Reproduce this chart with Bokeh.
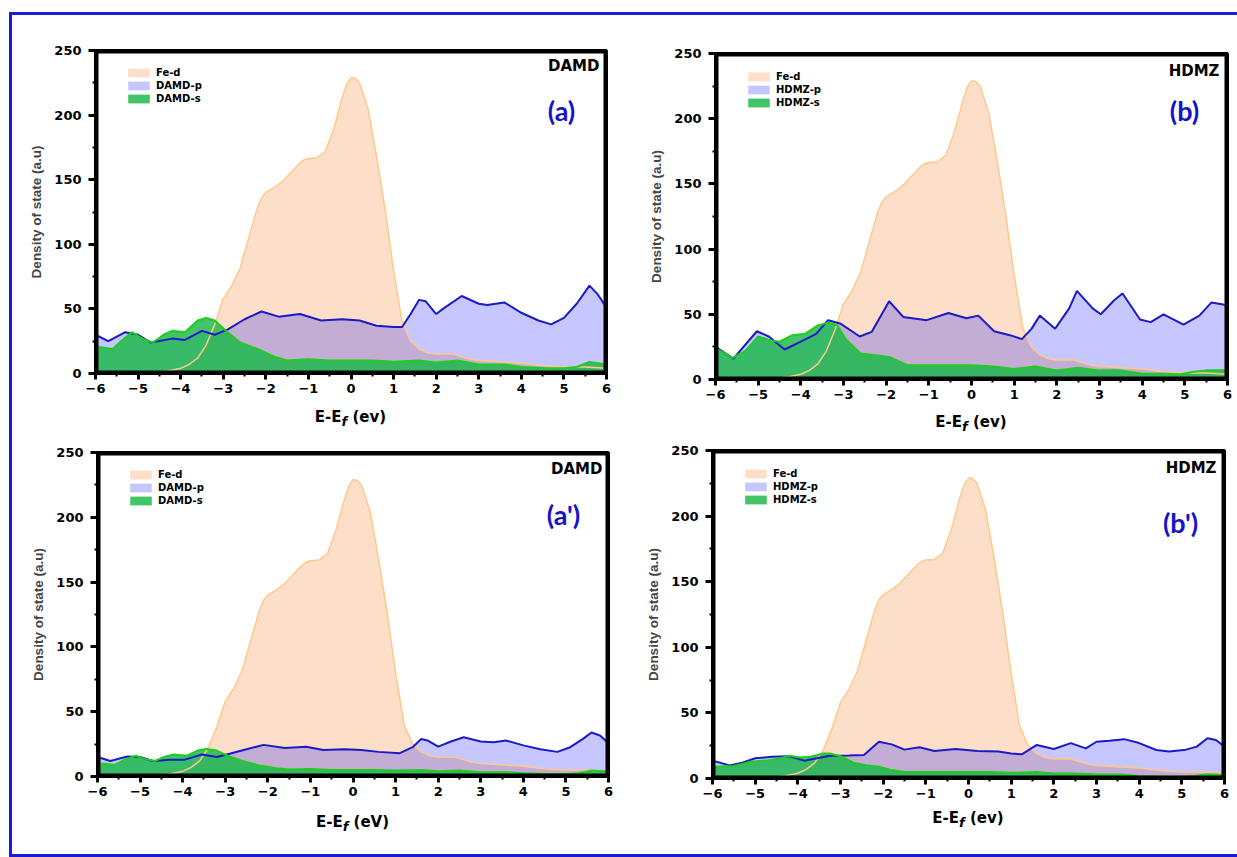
from bokeh.plotting import figure
from bokeh.layouts import column, row
from bokeh.models import (Range1d, SingleIntervalTicker, Label, Legend, LegendItem, Div)
from bokeh.embed import file_html
from bokeh.resources import INLINE

# ---------------------------------------------------------------- data
# Fe-d projected density of states (same in all four panels)
E_FE = [-6.0, -5.5, -5.0, -4.6, -4.3, -4.0, -3.8, -3.6, -3.4, -3.2, -3.0, -2.8, -2.6, -2.4,
        -2.2, -2.1, -2.0, -1.8, -1.6, -1.4, -1.2, -1.1, -1.0, -0.8, -0.6, -0.4, -0.2, -0.1,
        0.0, 0.1, 0.2, 0.4, 0.6, 0.8, 1.0, 1.2, 1.4, 1.6, 1.8, 2.0, 2.2, 2.4, 2.6, 2.8,
        3.0, 3.5, 4.0, 4.5, 5.0, 5.5, 6.0]
FE_D = [0, 0, 0.5, 1, 2, 4, 7, 12, 22, 38, 58, 68, 82, 105,
        128, 136, 140, 144, 149, 156, 163, 165.5, 166.5, 167, 172, 190, 214, 224,
        229, 228.5, 225, 205, 168, 127, 80, 40, 25, 19, 16, 15, 15, 15, 13, 11,
        10, 9, 8, 6, 5, 5, 4]

# (a) DAMD
E_DAMD_P = [-6.0, -5.7, -5.3, -5.0, -4.7, -4.2, -3.9, -3.5, -3.2, -2.9, -2.5, -2.1, -1.7,
            -1.2, -0.7, -0.2, 0.2, 0.6, 1.0, 1.2, 1.4, 1.6, 1.75, 2.0, 2.2, 2.6, 3.0, 3.2,
            3.6, 4.0, 4.4, 4.7, 5.0, 5.3, 5.6, 5.8, 6.0]
DAMD_P = [30, 25, 32, 30, 24, 27, 26, 33, 30, 34, 42, 48, 44,
          46, 41, 42, 41, 37, 36, 36, 46, 57, 56, 46, 51, 60, 54, 53,
          55, 47, 41, 38, 43, 54, 68, 61, 51]
E_DAMD_S = [-6.0, -5.6, -5.4, -5.15, -4.9, -4.65, -4.4, -4.2, -3.9, -3.6, -3.4, -3.2, -2.9,
            -2.6, -2.2, -1.8, -1.5, -1.0, -0.5, 0.0, 0.5, 1.0, 1.6, 2.0, 2.5, 3.0, 3.6,
            4.0, 4.6, 5.0, 5.3, 5.6, 6.0]
DAMD_S = [21, 19, 25, 32, 27, 24, 30, 33, 32, 41, 43, 41, 32,
          24, 19, 13, 10, 11, 10, 10, 10, 9, 10, 8.5, 10, 7, 7,
          5, 4, 4, 5, 9, 7]

# (b) HDMZ
E_HDMZ_P = [-6.0, -5.58, -5.03, -4.75, -4.38, -4.0, -3.64, -3.36, -3.08, -2.62, -2.34,
            -1.93, -1.6, -1.05, -0.54, -0.12, 0.16, 0.53, 0.9, 1.18, 1.41, 1.6, 1.96,
            2.29, 2.47, 2.84, 3.03, 3.35, 3.54, 3.95, 4.2, 4.5, 4.97, 5.34, 5.62, 6.0]
HDMZ_P = [25, 16, 37, 33, 23, 29, 35, 45.5, 43, 33, 36.5,
          60, 48, 45.5, 51, 47, 49, 37, 34, 31, 39, 49, 39,
          54.5, 68, 54.5, 50, 61, 66, 46, 44, 50, 42, 49, 59, 57]
E_HDMZ_S = [-6.0, -5.6, -5.3, -5.0, -4.7, -4.5, -4.2, -3.9, -3.6, -3.35, -3.15, -2.95,
            -2.6, -2.2, -1.9, -1.5, -1.0, -0.5, 0.0, 0.5, 1.0, 1.5, 2.0, 2.5, 3.0, 3.5,
            4.0, 4.5, 4.9, 5.2, 5.5, 6.0]
HDMZ_S = [24, 16.5, 22, 33, 30, 29, 34, 35, 41.5, 43.7, 41.7, 31,
          20, 18.5, 17, 11, 11, 11, 11, 10, 8, 10, 7, 9, 7, 7,
          4.4, 4.4, 4, 6, 7, 7]

# (a') DAMD
E_DAMD2_P = [-6.0, -5.7, -5.3, -5.0, -4.7, -4.3, -3.95, -3.55, -3.2, -2.9, -2.5, -2.1,
             -1.6, -1.1, -0.7, -0.2, 0.2, 0.6, 1.1, 1.4, 1.6, 1.75, 2.0, 2.3, 2.6, 3.0,
             3.3, 3.6, 4.0, 4.4, 4.8, 5.1, 5.4, 5.6, 5.8, 6.0]
DAMD2_P = [15, 12, 15.4, 15, 12, 13, 13, 17, 15, 17.5, 21, 24.4,
           22, 23, 20.5, 21, 20.5, 19, 18, 22.6, 29, 27.8, 23, 27, 30.3, 27,
           26.5, 27.7, 24, 21, 19, 22.6, 29, 34, 31.6, 25.7]
E_DAMD2_S = [-6.0, -5.6, -5.4, -5.1, -4.9, -4.65, -4.4, -4.2, -3.9, -3.65, -3.45, -3.2,
             -2.9, -2.6, -2.2, -1.8, -1.5, -1.0, -0.5, 0.0, 0.5, 1.0, 1.6, 2.0, 2.5, 3.0,
             3.6, 4.0, 4.6, 5.0, 5.3, 5.6, 6.0]
DAMD2_S = [10.3, 9, 12.3, 16, 13.6, 12, 15.4, 17, 16, 20, 21.3, 20,
           15.4, 12, 8.5, 6.4, 5.4, 5.7, 5, 5, 5, 4.6, 5, 4, 4.6, 3.3,
           3.3, 2.6, 2, 2, 2.6, 4.6, 3.8]

# (b') HDMZ
E_HDMZ2_P = [-6.0, -5.6, -5.3, -5.0, -4.6, -4.2, -3.85, -3.55, -3.25, -2.8, -2.45, -2.1,
             -1.8, -1.5, -1.15, -0.8, -0.3, 0.2, 0.7, 1.0, 1.25, 1.6, 2.0, 2.4, 2.75, 3.0,
             3.3, 3.65, 4.0, 4.4, 4.7, 5.1, 5.35, 5.6, 5.8, 6.0]
HDMZ2_P = [13.6, 10, 12, 15.4, 16.6, 17, 13.6, 15.4, 17.4, 17.5, 18, 28,
           26, 22, 23.8, 21, 22.5, 21, 20.5, 19, 18.4, 25.6, 22.5, 27, 23, 28,
           28.7, 30, 27, 21.7, 20.5, 22, 24.3, 30.7, 29.4, 24.3]
E_HDMZ2_S = [-6.0, -5.5, -5.1, -4.7, -4.4, -4.2, -3.95, -3.7, -3.4, -3.25, -3.0, -2.7,
             -2.4, -2.1, -1.8, -1.5, -1.0, -0.5, 0.0, 0.5, 1.0, 1.6, 2.0, 2.5, 3.0, 3.6,
             4.0, 4.6, 5.0, 5.3, 5.6, 6.0]
HDMZ2_S = [9, 9.5, 12.8, 14, 15.4, 17.4, 16, 16.6, 19, 19, 17, 12,
           10.2, 9, 6.4, 5, 4.9, 5, 4.9, 5, 4.3, 4.9, 3.8, 3.8, 3, 3,
           2, 1.3, 1.3, 2, 3.3, 2.6]

# ---------------------------------------------------------------- style
FE_FILL, FE_ALPHA, FE_LINE = "#f58a3c", 0.28, "#ffc98a"
P_FILL, P_ALPHA, P_LINE = "#0000ff", 0.22, "#1a1ac8"
S_FILL, S_ALPHA, S_LINE = "#18b848", 0.82, "#1fcc1f"
TAG_BLUE = "#1414c8"
FRAME_BLUE = "#1b1bd6"
TICK_FONT = "DejaVu Sans"


def panel(mol, tag, unit, p_x, p_y, s_x, s_y, width, borders, frame_h, name_off,
          tag_off, legend_top, below_h, title_top):
    left, right, top, bottom = borders
    xr, yr = Range1d(-6, 6), Range1d(0, 250)
    p = figure(width=width, height=top + frame_h + bottom, output_backend="svg",
               toolbar_location=None, x_range=xr, y_range=yr,
               min_border_left=left, min_border_right=right,
               min_border_top=top, min_border_bottom=bottom,
               background_fill_color="white", border_fill_color="white")
    p.grid.visible = False
    p.outline_line_color = "black"
    p.outline_line_width = 3

    r_fe = p.varea(x=E_FE, y1=0, y2=FE_D, fill_color=FE_FILL, fill_alpha=FE_ALPHA)
    r_p = p.varea(x=p_x, y1=0, y2=p_y, fill_color=P_FILL, fill_alpha=P_ALPHA)
    r_s = p.varea(x=s_x, y1=0, y2=s_y, fill_color=S_FILL, fill_alpha=S_ALPHA)
    p.line(E_FE, FE_D, line_color=FE_LINE, line_width=1.5)
    p.line(p_x, p_y, line_color=P_LINE, line_width=2)
    p.line(s_x, s_y, line_color=S_LINE, line_width=2)

    # heavy black box along the range limits (the inner half stays inside the frame)
    p.line([xr.start, xr.end, xr.end, xr.start, xr.start],
           [yr.start, yr.start, yr.end, yr.end, yr.start],
           line_color="black", line_width=6, line_join="miter")

    # axes
    p.xaxis.ticker = SingleIntervalTicker(interval=1, num_minor_ticks=2)
    p.yaxis.ticker = SingleIntervalTicker(interval=50, num_minor_ticks=2)
    for ax in (p.xaxis[0], p.yaxis[0]):
        ax.axis_line_color = "black"
        ax.axis_line_width = 3
        ax.major_tick_line_width = 3
        ax.minor_tick_line_width = 2
        ax.major_tick_in = 0
        ax.minor_tick_in = 0
        ax.major_tick_out = 6
        ax.minor_tick_out = 3
        ax.major_label_text_font = TICK_FONT
        ax.major_label_text_font_style = "bold"
        ax.major_label_text_font_size = "13px"
        ax.major_label_text_color = "black"
    p.xaxis.major_label_standoff = 4
    p.yaxis.major_label_standoff = 7
    p.yaxis.major_tick_out = 7
    p.yaxis.axis_label = "Density of state (a.u)"
    p.yaxis.axis_label_text_font = "Liberation Sans"
    p.yaxis.axis_label_text_font_style = "bold"
    p.yaxis.axis_label_text_font_size = "13.5px"
    p.yaxis.axis_label_standoff = 7

    # molecule name and panel tag
    p.add_layout(Label(x=6, y=250, x_offset=-name_off[0], y_offset=-name_off[1], text=mol,
                       text_align="right", text_baseline="middle", text_font=TICK_FONT,
                       text_font_style="bold", text_font_size="15px", text_color="black"))
    p.add_layout(Label(x=6, y=250, x_offset=-tag_off[0], y_offset=-tag_off[1], text=tag,
                       text_align="center", text_baseline="middle", text_font="Lato",
                       text_font_style="bold", text_font_size="27px", text_color=TAG_BLUE))

    legend = Legend(items=[LegendItem(label="Fe-d", renderers=[r_fe]),
                           LegendItem(label=f"{mol}-p", renderers=[r_p]),
                           LegendItem(label=f"{mol}-s", renderers=[r_s])],
                    location=(30, frame_h - legend_top - 37),
                    glyph_width=27, glyph_height=11, label_height=11, spacing=2,
                    padding=0, margin=0, label_standoff=4,
                    label_text_font=TICK_FONT, label_text_font_style="bold",
                    label_text_font_size="10px", label_text_color="black",
                    border_line_alpha=0, background_fill_alpha=0)
    p.add_layout(legend)

    # x-axis title (energy relative to the Fermi level), set as HTML for the subscript
    centre = left + (width - left - right) / 2
    title = Div(text=(f'<div style="width:{2 * centre:.0f}px; text-align:center; '
                      f'margin-top:{title_top}px; line-height:16px; white-space:nowrap; '
                      f'font-family:\'DejaVu Sans\'; font-weight:bold; font-size:15px; '
                      f'color:black;">E-E<sub style="font-style:italic; font-size:13px;">f'
                      f'</sub> {unit}</div>'),
                width=width, height=below_h, margin=(0, 0, 0, 0))
    return column(p, title, spacing=0)


pa = panel("DAMD", "(a)", "(ev)", E_DAMD_P, DAMD_P, E_DAMD_S, DAMD_S,
           628, (83, 34, 35, 28), 323, (7, 15), (45, 60), 17, 34, 8)
pb = panel("HDMZ", "(b)", "(ev)", E_HDMZ_P, HDMZ_P, E_HDMZ_S, HDMZ_S,
           597, (75, 10, 38, 28), 326, (8, 17), (43, 57), 18, 28, 7)
pa2 = panel("DAMD", "(a')", "(eV)", E_DAMD2_P, DAMD2_P, E_DAMD2_S, DAMD2_S,
            628, (85, 32, 17, 28), 324, (6, 16), (45, 62), 17, 50, 10)
pb2 = panel("HDMZ", "(b')", "(ev)", E_HDMZ2_P, HDMZ2_P, E_HDMZ2_S, HDMZ2_S,
            597, (72, 13, 15, 28), 328, (8, 17), (44, 72), 18, 48, 4)

border = f"3px solid {FRAME_BLUE}"
layout = column(row(pa, pb, spacing=0), row(pa2, pb2, spacing=0), spacing=0,
                styles={"border-top": border, "border-left": border,
                        "border-bottom": border, "margin-top": "12px",
                        "margin-left": "9px"})

open("out.html", "w").write(file_html(layout, INLINE))
